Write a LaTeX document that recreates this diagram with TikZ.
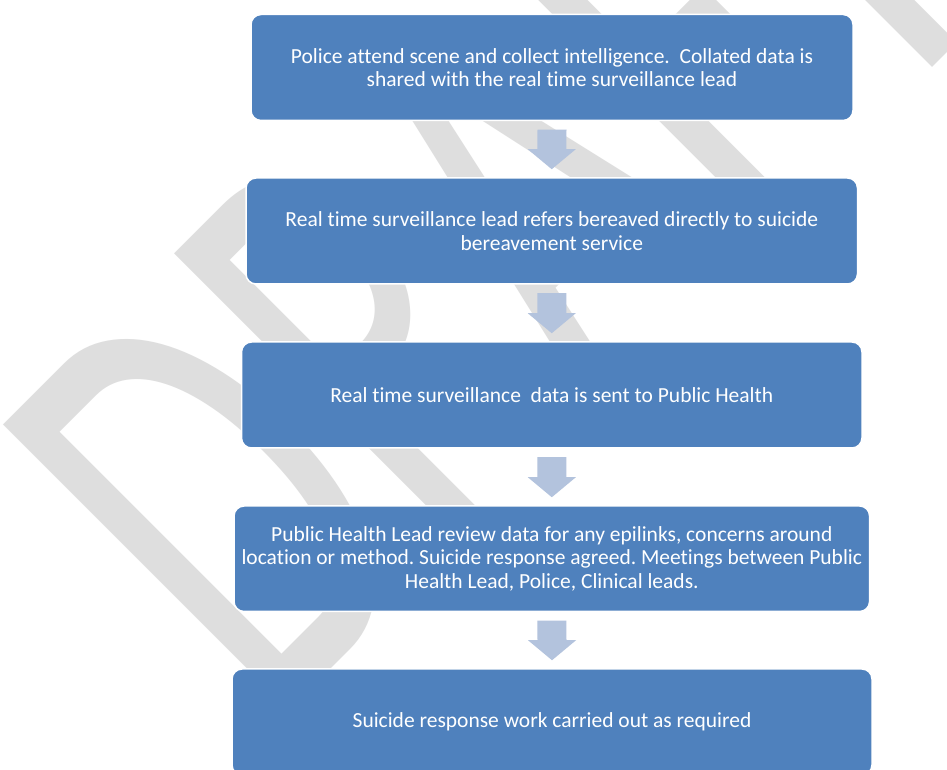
\documentclass[tikz,border=0pt]{standalone}
\usepackage{fontspec}
\setmainfont{Carlito}[Ligatures=NoCommon]
\usepackage{graphicx}
\usetikzlibrary{calc}
\definecolor{boxblue}{RGB}{79,129,189}
\definecolor{arrowblue}{RGB}{179,195,221}
\definecolor{wmgray}{RGB}{222,222,222}
\tikzset{
  stepbox/.style={fill=boxblue, draw=white, line width=1.5pt, rounded corners=10pt,
    text=white, align=center, inner sep=3pt,
    font=\fontsize{21.5}{23.7}\selectfont},
  flowarrow/.style={fill=arrowblue}
}
\frenchspacing
\begin{document}
\begin{tikzpicture}[x=1pt,y=1pt]
\useasboundingbox (0,0) rectangle (947,770);
\fill[white] (0,0) rectangle (947,770);
\clip (0,0) rectangle (947,770);
% watermark
\node[anchor=base west, inner sep=0pt, rotate=45, text=wmgray] (wm) at (270.8,40.8)
  {\scalebox{0.62}[1]{\fontsize{630}{630}\selectfont DRAFT}};
% boxes
\node[stepbox, minimum width=602pt, minimum height=106pt] (b1) at (552,702.5)
  {Police attend scene and collect intelligence.\ \ Collated data is\\shared with the real time surveillance lead};
\node[stepbox, minimum width=611.5pt, minimum height=106pt] (b2) at (551.75,539)
  {Real time surveillance lead refers bereaved directly to suicide\\bereavement service};
\node[stepbox, minimum width=620.5pt, minimum height=106pt] (b3) at (551.75,375)
  {Real time surveillance\ \ data is sent to Public Health};
\node[stepbox, minimum width=635.6pt, minimum height=105.5pt] (b4) at (551.8,211.25)
  {Public Health Lead review data for any epilinks, concerns around\\location or method. Suicide response agreed. Meetings between Public\\Health Lead, Police, Clinical leads.};
\node[stepbox, minimum width=640pt, minimum height=106pt] (b5) at (552,48)
  {Suicide response work carried out as required};
% arrows
\foreach \a/\b in {b1/b2,b2/b3,b3/b4,b4/b5}{
  \fill[flowarrow] ($(\a.south)+(-14.5,-8.5)$) -- ($(\a.south)+(14.5,-8.5)$)
    -- ($(\b.north)+(14.5,28)$) -- ($(\b.north)+(24,28)$) -- ($(\b.north)+(0,8)$)
    -- ($(\b.north)+(-24,28)$) -- ($(\b.north)+(-14.5,28)$) -- cycle;
}
\end{tikzpicture}
\end{document}
